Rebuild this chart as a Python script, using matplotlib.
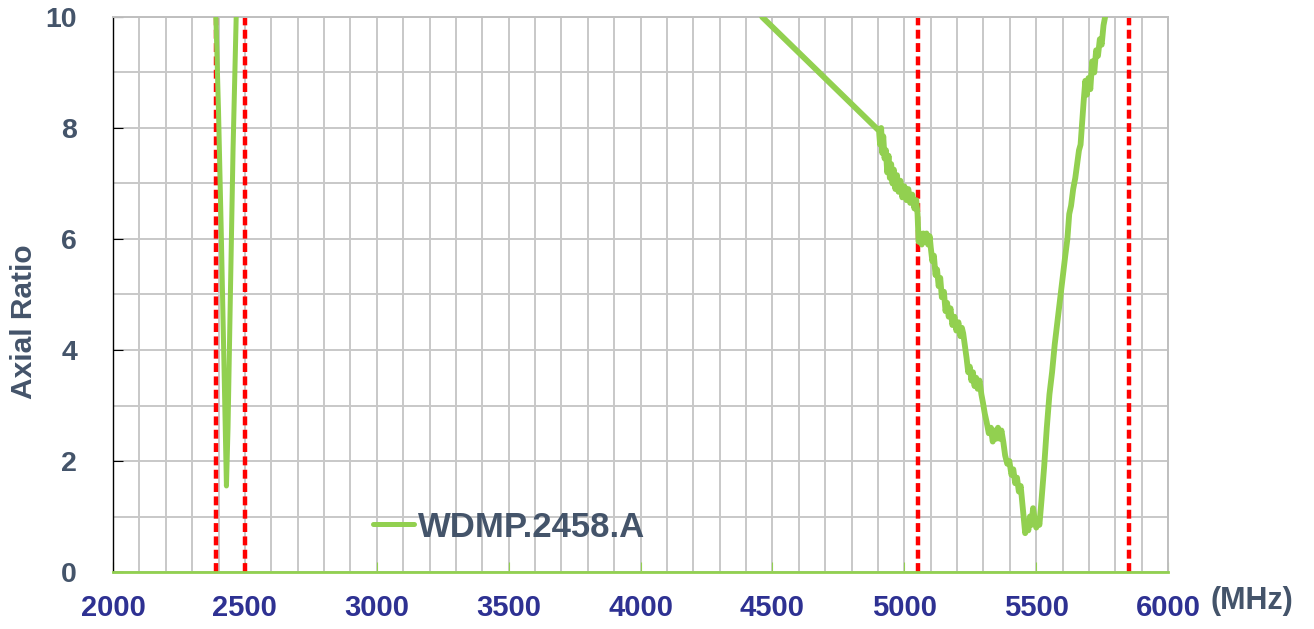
import matplotlib.pyplot as plt
from matplotlib.ticker import MultipleLocator

# frequency (MHz) and axial ratio
freq_a = [2390, 2400, 2410, 2420, 2430, 2436, 2445, 2455, 2467]
ar_a = [10.0, 8.3, 6.2, 3.9, 1.55, 2.6, 5.0, 7.6, 10.0]

freq_b = [4461, 4904, 4908, 4912, 4916, 4920, 4925, 4930, 4935, 4940, 4945, 4950,
          4955, 4960, 4966, 4972, 4978, 4985, 4992, 5000, 5008, 5015, 5022, 5030,
          5038, 5045, 5050, 5054, 5060, 5066, 5072, 5078, 5084, 5090, 5096, 5100,
          5106, 5112, 5118, 5124, 5130, 5136, 5142, 5150, 5156, 5162, 5168, 5175,
          5182, 5190, 5197, 5205, 5212, 5218, 5223, 5230, 5236, 5242, 5248, 5254,
          5260, 5266, 5272, 5278, 5285, 5292, 5298, 5305, 5312, 5320, 5328, 5335,
          5342, 5348, 5355, 5362, 5368, 5375, 5382, 5390, 5398, 5406, 5413, 5420,
          5427, 5434, 5441, 5448, 5453, 5458, 5464, 5470, 5476, 5482, 5488, 5494,
          5500, 5506, 5512, 5520, 5530, 5540, 5550, 5560, 5570, 5580, 5590, 5600,
          5610, 5618, 5625, 5632, 5640, 5648, 5655, 5662, 5668, 5674, 5680, 5686,
          5692, 5698, 5705, 5712, 5720, 5727, 5734, 5741, 5748, 5755, 5761]
ar_b = [10.0, 7.95, 7.7, 8.0, 7.55, 7.85, 7.45, 7.6, 7.2, 7.5, 7.1, 7.35,
        7.0, 7.25, 6.9, 7.15, 6.85, 7.05, 6.75, 6.95, 6.7, 6.9, 6.65, 6.8,
        6.55, 6.7, 6.45, 5.95, 6.1, 5.9, 6.1, 5.95, 6.1, 5.9, 6.05, 5.85,
        5.6, 5.7, 5.35, 5.45, 5.15, 5.3, 4.95, 5.05, 4.7, 4.85, 4.6, 4.75,
        4.45, 4.6, 4.35, 4.5, 4.25, 4.4, 4.3, 4.05, 3.85, 3.6, 3.7, 3.45,
        3.6, 3.35, 3.5, 3.3, 3.45, 3.2, 3.05, 2.85, 2.7, 2.5, 2.6, 2.35,
        2.55, 2.4, 2.6, 2.4, 2.55, 2.35, 2.1, 1.95, 2.0, 1.75, 1.85, 1.6,
        1.7, 1.45, 1.55, 1.2, 0.95, 0.7, 0.9, 0.75, 1.0, 0.85, 1.15, 0.95,
        0.8, 0.95, 0.85, 1.3, 1.9, 2.6, 3.2, 3.6, 4.1, 4.5, 4.9, 5.3,
        5.7, 6.0, 6.45, 6.6, 6.9, 7.1, 7.35, 7.6, 7.7, 8.1, 8.5, 8.85,
        8.6, 8.9, 8.7, 9.2, 9.0, 9.4, 9.3, 9.6, 9.5, 9.85, 10.0]

band_edges = [2390, 2500, 5050, 5850]
legend_label = 'WDMP.2458.A'

green = '#92D050'
slate = '#44546A'
navy = '#2E3192'

plt.rcParams['font.family'] = ['Liberation Sans', 'DejaVu Sans']

fig = plt.figure(figsize=(13.14, 6.29), dpi=100)
ax = fig.add_axes([0.086, 0.0906, 0.803, 0.8824])

ax.set_xlim(2000, 6000)
ax.set_ylim(0, 10)
ax.xaxis.set_major_locator(MultipleLocator(500))
ax.xaxis.set_minor_locator(MultipleLocator(100))
ax.yaxis.set_major_locator(MultipleLocator(2))
ax.yaxis.set_minor_locator(MultipleLocator(1))
ax.grid(which='both', color='#C8C8C8', lw=1.4)
ax.set_axisbelow(True)

for x in band_edges:
    ax.axvline(x, color='#FF0000', lw=3.2, ls=(0, (2.0, 1.0)), zorder=2)

ax.plot(freq_a, ar_a, color=green, lw=3.6, label=legend_label, zorder=3,
        solid_joinstyle='round', solid_capstyle='round')
ax.plot(freq_b, ar_b, color=green, lw=4.2, zorder=3,
        solid_joinstyle='round', solid_capstyle='round')

for s in ['top', 'right']:
    ax.spines[s].set_color('#BFBFBF')
    ax.spines[s].set_linewidth(1.4)
ax.spines['left'].set_color('#000000')
ax.spines['left'].set_linewidth(1.0)
ax.spines['bottom'].set_color(green)
ax.spines['bottom'].set_linewidth(2.0)

ax.tick_params(axis='x', which='major', direction='in', length=7, color=green,
               labelsize=21, labelcolor=navy, pad=16)
ax.tick_params(axis='x', which='minor', length=0)
ax.tick_params(axis='y', which='major', direction='in', length=7, color='#000000',
               labelsize=20.5, labelcolor=slate, pad=26)
ax.tick_params(axis='y', which='minor', length=0)
for lab in ax.get_xticklabels() + ax.get_yticklabels():
    lab.set_fontweight('bold')

fig.text(24 / 1314, 1 - 322 / 629, 'Axial Ratio', fontsize=21.5, fontweight='bold',
         color=slate, rotation=90, ha='center', va='center')
fig.text(0.921, 0.0445, '(MHz)', fontsize=22, fontweight='bold', color=slate,
         ha='left', va='center')

leg = ax.legend(loc='center left', bbox_to_anchor=(0.246, 0.081), frameon=False,
                fontsize=25, handlelength=1.2, handletextpad=0.1,
                borderpad=0, borderaxespad=0)
for t in leg.get_texts():
    t.set_color(slate)
    t.set_fontweight('bold')

fig.savefig('out.png', dpi=100)
